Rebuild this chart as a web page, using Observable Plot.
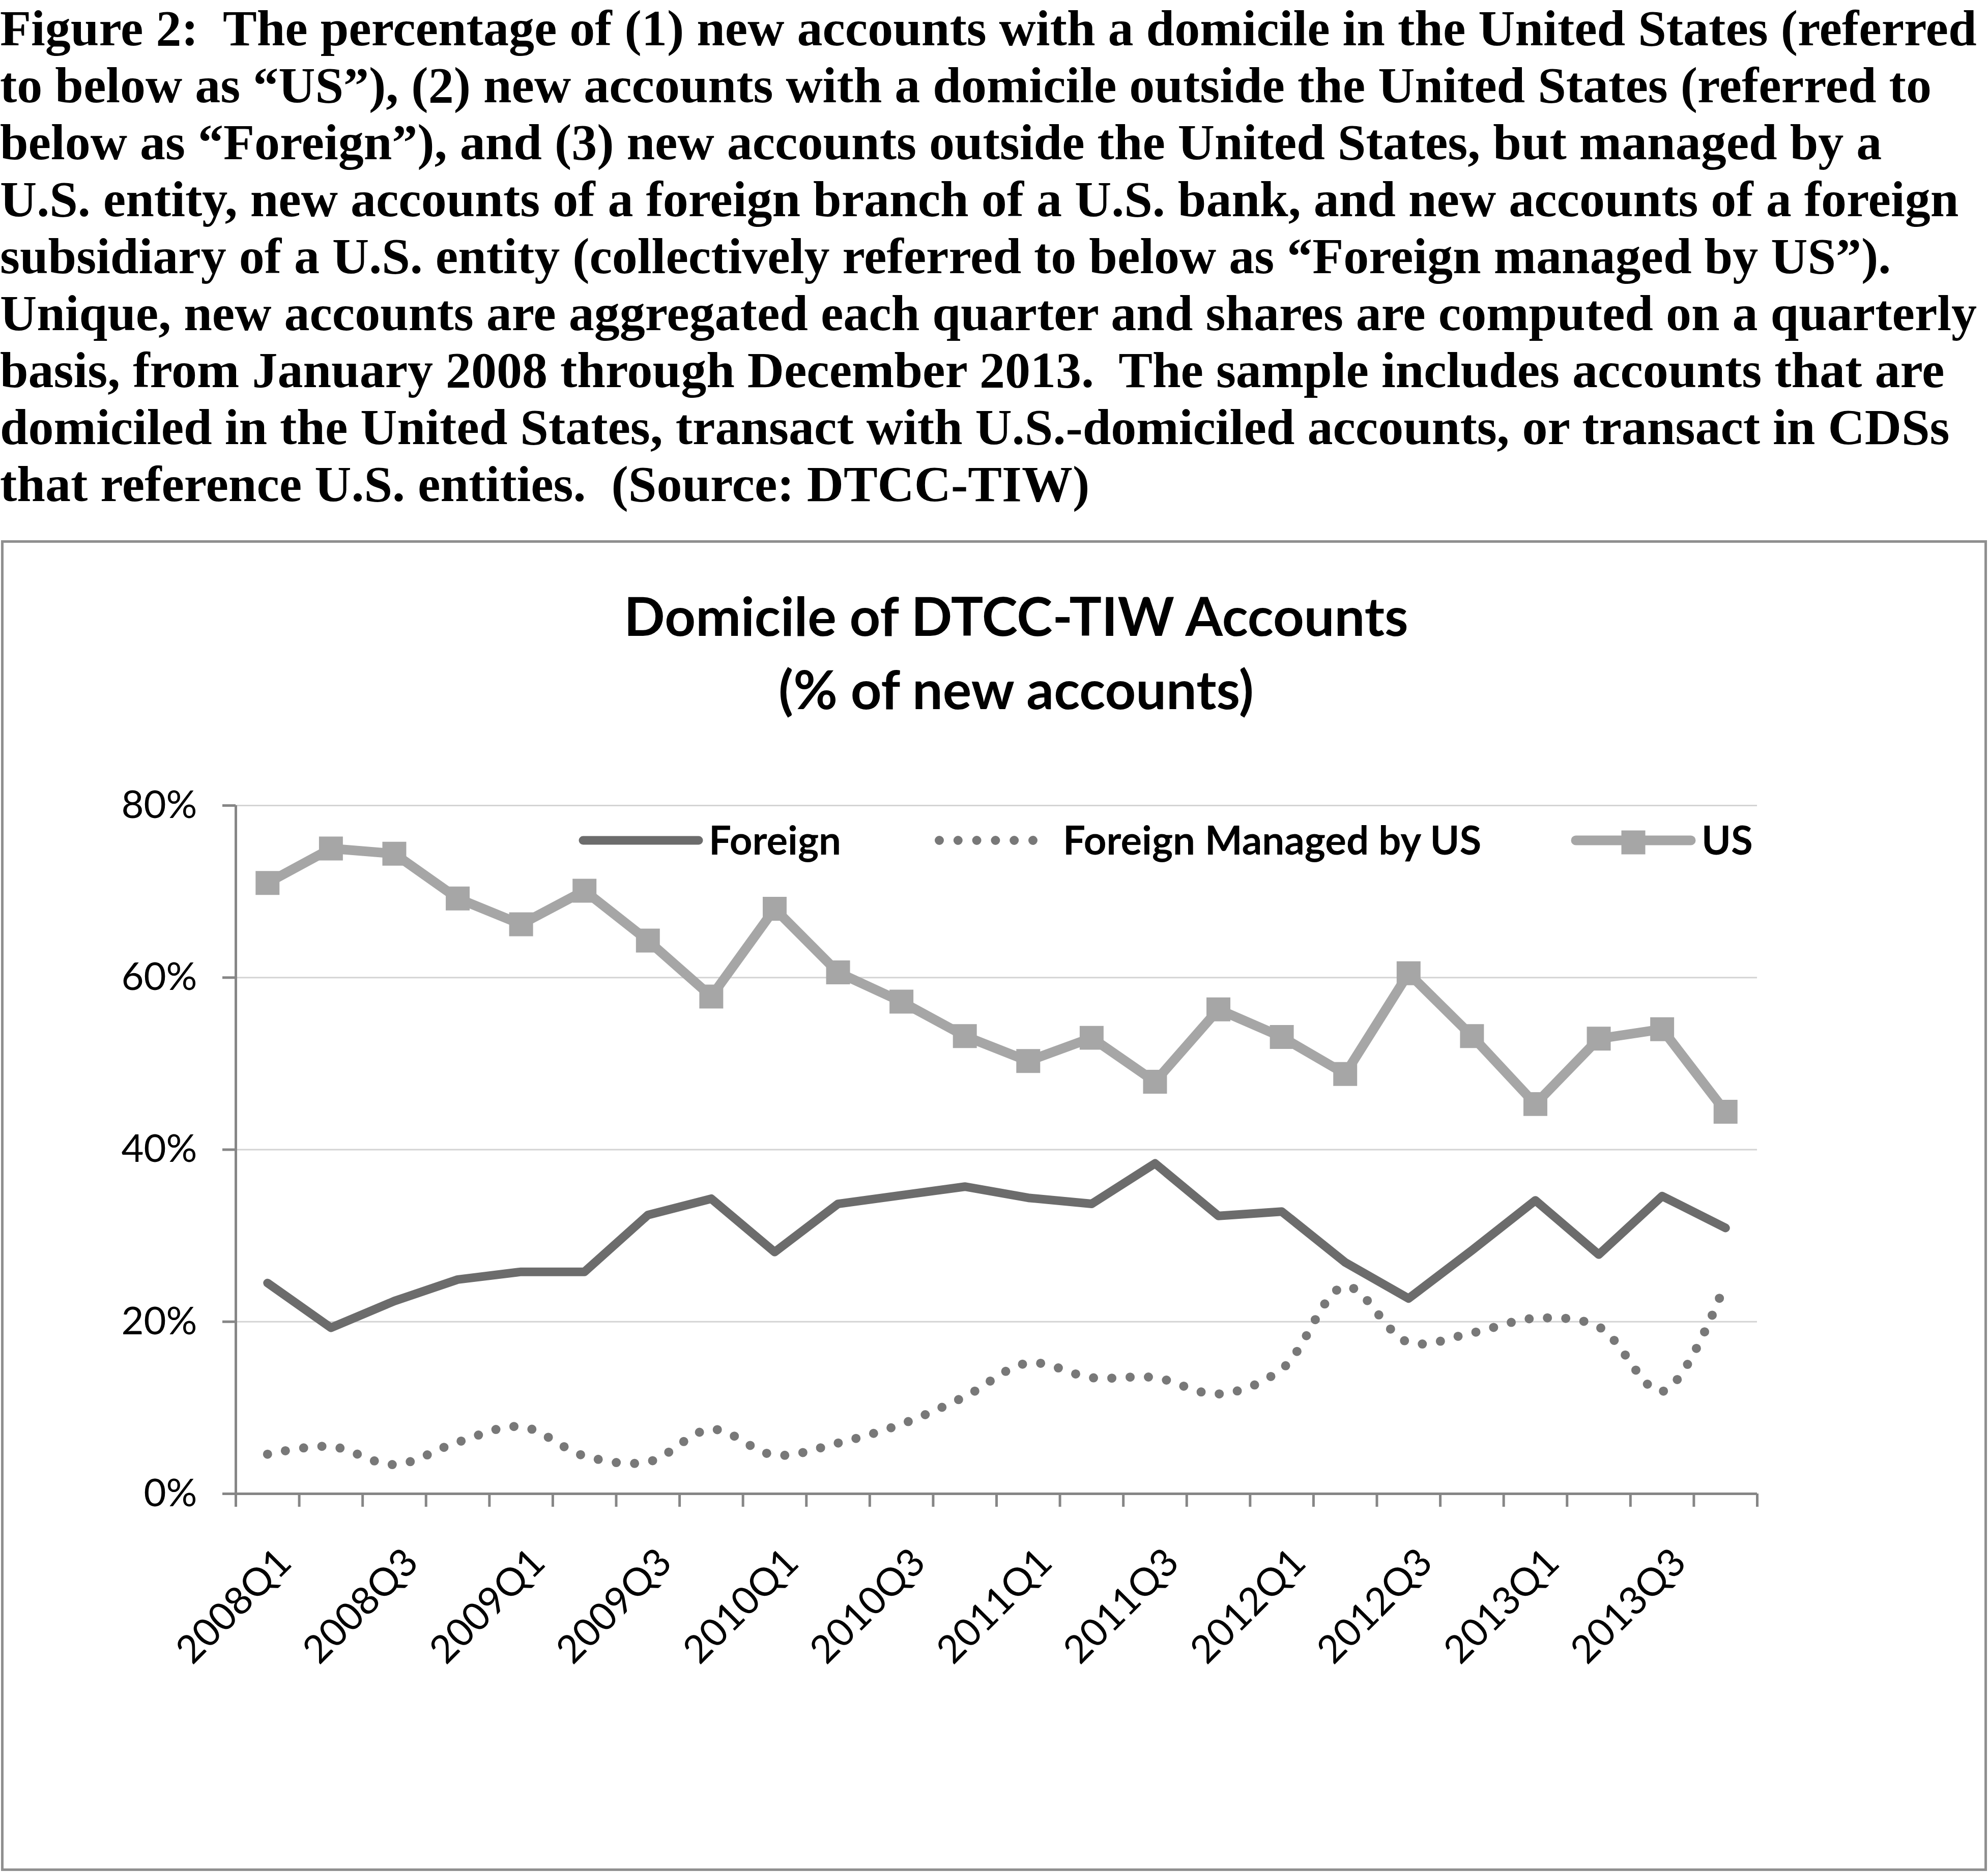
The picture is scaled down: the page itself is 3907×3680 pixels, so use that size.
<!DOCTYPE html>
<html>
<head>
<meta charset="utf-8">
<script src="https://cdn.jsdelivr.net/npm/d3@7"></script>
<script src="https://cdn.jsdelivr.net/npm/@observablehq/plot@0.6"></script>
<style>
html, body { margin: 0; padding: 0; background: #fff; }
body { width: 3907px; height: 3680px; position: relative; overflow: hidden; }
#caption { position: absolute; left: 0; top: 0; font-family: "Liberation Serif", "Times New Roman", serif; font-weight: bold; font-size: 100px; line-height: 112px; white-space: pre; color: #000; }
#box { position: absolute; left: 2px; top: 1062px; width: 3903px; height: 2616px; box-sizing: border-box; border: 5px solid #8f8f8f; }
#title { position: absolute; left: 0; top: 1137px; width: 3994px; text-align: center; font-family: Lato, sans-serif; font-weight: bold; font-size: 106px; line-height: 144px; color: #000; }
#chart { position: absolute; left: 0; top: 1062px; }
#legend { position: absolute; left: 0; top: 1600px; }
</style>
</head>
<body>
<div id="caption"></div>
<div id="box"></div>
<div id="title"></div>
<div id="chart"></div>
<svg id="legend" width="3907" height="120"></svg>
<script>
// ---- data ----
const captionLines = [
  "Figure 2:  The percentage of (1) new accounts with a domicile in the United States (referred",
  "to below as \u201cUS\u201d), (2) new accounts with a domicile outside the United States (referred to",
  "below as \u201cForeign\u201d), and (3) new accounts outside the United States, but managed by a",
  "U.S. entity, new accounts of a foreign branch of a U.S. bank, and new accounts of a foreign",
  "subsidiary of a U.S. entity (collectively referred to below as \u201cForeign managed by US\u201d).",
  "Unique, new accounts are aggregated each quarter and shares are computed on a quarterly",
  "basis, from January 2008 through December 2013.  The sample includes accounts that are",
  "domiciled in the United States, transact with U.S.-domiciled accounts, or transact in CDSs",
  "that reference U.S. entities.  (Source: DTCC-TIW)"
];
const titleLines = ["Domicile of DTCC-TIW Accounts", "(% of new accounts)"];
const seriesNames = ["Foreign", "Foreign Managed by US", "US"];

const quarters = [
  "2008Q1","2008Q2","2008Q3","2008Q4",
  "2009Q1","2009Q2","2009Q3","2009Q4",
  "2010Q1","2010Q2","2010Q3","2010Q4",
  "2011Q1","2011Q2","2011Q3","2011Q4",
  "2012Q1","2012Q2","2012Q3","2012Q4",
  "2013Q1","2013Q2","2013Q3","2013Q4"
];
// percent of new accounts
const foreign = [24.5, 19.3, 22.4, 24.9, 25.8, 25.8, 32.4, 34.3, 28.1, 33.7, 34.7, 35.7,
                 34.4, 33.7, 38.4, 32.3, 32.8, 26.9, 22.7, 28.3, 34.1, 27.8, 34.6, 30.9];
const foreignManaged = [4.6, 5.5, 3.4, 6.0, 7.8, 4.4, 3.7, 7.5, 4.5, 5.9, 8.1, 11.3,
                        15.2, 13.5, 13.5, 11.6, 14.5, 24.1, 17.6, 18.7, 20.4, 19.4, 11.9, 24.5];
const us = [71.0, 75.0, 74.4, 69.2, 66.2, 70.1, 64.3, 57.8, 68.0, 60.6, 57.2, 53.2,
            50.3, 53.0, 47.9, 56.3, 53.1, 48.8, 60.5, 53.2, 45.3, 52.9, 54.0, 44.4];
const yTicks = [0, 0.2, 0.4, 0.6, 0.8];
const xLabelQuarters = quarters.filter((q, i) => i % 2 === 0);

// ---- styles ----
const colors = { "Foreign": "#6c6c6c", "Foreign Managed by US": "#787878", "US": "#a6a6a6" };
const axisColor = "#868686";

// caption & title
document.getElementById("caption").textContent = captionLines.join("\n");
document.getElementById("title").innerHTML = titleLines.join("<br>");

const rows = quarters.map((q, i) => ({
  q, x: i + 0.5,
  foreign: foreign[i] / 100,
  managed: foreignManaged[i] / 100,
  us: us[i] / 100
}));

const chart = Plot.plot({
  width: 3907,
  height: 2618,
  marginLeft: 463,
  marginRight: 454,
  marginTop: 521,
  marginBottom: 744,
  style: { fontFamily: "Lato, sans-serif", fontSize: "76px", background: "transparent", overflow: "visible", color: "#000" },
  x: { domain: [0, quarters.length] },
  y: { domain: [0, 0.8] },
  marks: [
    Plot.gridY(yTicks.filter(d => d > 0), { stroke: "#d4d4d4", strokeWidth: 3, strokeOpacity: 1 }),
    Plot.line(rows, { x: "x", y: "managed", curve: "catmull-rom", stroke: colors["Foreign Managed by US"], strokeWidth: 18, strokeDasharray: "0 36", strokeLinecap: "round" }),
    Plot.line(rows, { x: "x", y: "foreign", stroke: colors["Foreign"], strokeWidth: 17, strokeLinejoin: "round", strokeLinecap: "round" }),
    Plot.line(rows, { x: "x", y: "us", stroke: colors["US"], strokeWidth: 19, strokeLinejoin: "round" }),
    Plot.dot(rows, { x: "x", y: "us", symbol: "square", r: 26.5, fill: colors["US"], stroke: null }),
    Plot.axisY({ ticks: yTicks, tickFormat: d3.format(".0%"), tickSize: 26, tickPadding: 50, stroke: axisColor, strokeWidth: 5, fill: "#000", label: null }),
    Plot.ruleX([0], { stroke: axisColor, strokeWidth: 5 }),
    Plot.axisX({ ticks: d3.range(quarters.length + 1), tickSize: 26, tickFormat: () => "", stroke: axisColor, strokeWidth: 5, label: null }),
    Plot.ruleY([0], { stroke: axisColor, strokeWidth: 5 }),
    Plot.axisX({ ticks: xLabelQuarters.map(q => quarters.indexOf(q) + 0.5), tickSize: 0, tickPadding: 0, tickRotate: -45,
                 tickFormat: d => quarters[Math.round(d - 0.5)], dx: 34, dy: 122, fill: "#000", label: null })
  ]
});
document.getElementById("chart").appendChild(chart);

// legend (drawn outside the plot, positioned over the chart area)
const lg = d3.select("#legend");
const legendItems = [
  { name: seriesNames[0], x0: 1146, x1: 1373, tx: 1393, kind: "solid" },
  { name: seriesNames[1], x0: 1846, x1: 2030, tx: 2089, kind: "dotted" },
  { name: seriesNames[2], x0: 3097, x1: 3323, tx: 3344, kind: "marker" }
];
const ly = 52;
for (const it of legendItems) {
  const c = colors[it.name];
  if (it.kind === "solid") {
    lg.append("line").attr("x1", it.x0).attr("x2", it.x1).attr("y1", ly).attr("y2", ly)
      .attr("stroke", c).attr("stroke-width", 17).attr("stroke-linecap", "round");
  } else if (it.kind === "dotted") {
    lg.append("line").attr("x1", it.x0).attr("x2", it.x1).attr("y1", ly).attr("y2", ly)
      .attr("stroke", c).attr("stroke-width", 18).attr("stroke-linecap", "round").attr("stroke-dasharray", "0 36.8");
  } else {
    lg.append("line").attr("x1", it.x0).attr("x2", it.x1).attr("y1", ly).attr("y2", ly)
      .attr("stroke", c).attr("stroke-width", 19).attr("stroke-linecap", "round");
    const cx = (it.x0 + it.x1) / 2;
    lg.append("rect").attr("x", cx - 23.5).attr("y", ly + 4 - 23.5).attr("width", 47).attr("height", 47).attr("fill", c);
  }
  lg.append("text").attr("x", it.tx).attr("y", 80).attr("font-family", "Lato, sans-serif")
    .attr("font-weight", "bold").attr("font-size", 78).attr("fill", "#000").text(it.name);
}
</script>
</body>
</html>
